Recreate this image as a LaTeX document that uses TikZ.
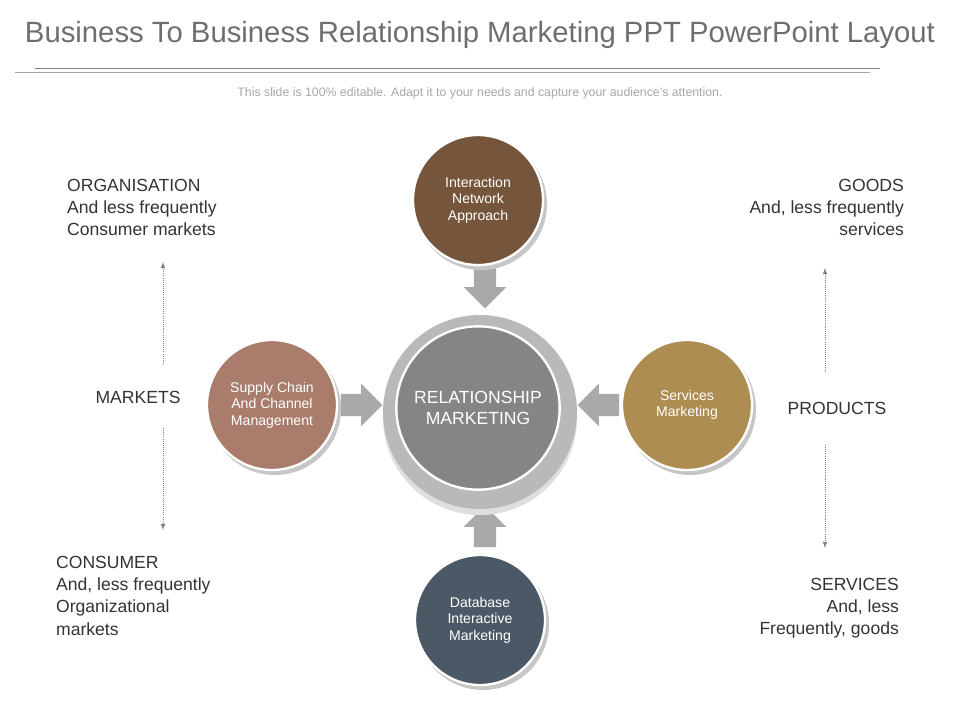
\documentclass[tikz,border=0pt]{standalone}
\usepackage{fontspec}
\setmainfont{Liberation Sans}
\usetikzlibrary{shapes.arrows}
\definecolor{titlegray}{HTML}{6E6E6E}
\definecolor{txtgray}{HTML}{555555}
\definecolor{brownball}{HTML}{75563C}
\definecolor{roseball}{HTML}{A97C6C}
\definecolor{goldball}{HTML}{AD8D52}
\definecolor{slateball}{HTML}{4B5866}
\definecolor{centerball}{HTML}{858585}
\definecolor{arrowgray}{HTML}{A9A9A9}
\tikzset{
  ball/.style={circle, minimum size=3.9cm, draw=white, line width=2pt,
    align=center, text=white, font=\fontsize{12}{14}\selectfont},
  bigarrow/.style={single arrow, fill=arrowgray, minimum height=1.25cm,
    inner xsep=0pt, inner ysep=0.33cm, single arrow head extend=0.3cm},
  sidetext/.style={text=black!80, font=\fontsize{15}{19}\selectfont},
  dotarrow/.style={densely dotted, thick, gray, -latex}
}
\begin{document}
\begin{tikzpicture}[x=0.03cm, y=-0.03cm]
    \useasboundingbox (0,0) rectangle (960,720);

    % titel en lijn
    \node[titlegray, font=\fontsize{25}{28}\selectfont] (title) at (480,35) {Business To Business Relationship Marketing PPT PowerPoint Layout};
    \draw[gray] (35,68) -- (880,68);
    \draw[gray!70] (15,72) -- (870,72);
    \node[gray!70, font=\fontsize{10.5}{12}\selectfont] (sub) at (480,93) {This slide is 100\% editable. Adapt it to your needs and capture your audience's attention.};

    % pijlen naar het midden
    \node[bigarrow, rotate=-90] (arrtop) at (485,282) {};
    \node[bigarrow] (arrleft) at (356,405) {};
    \node[bigarrow, rotate=180] (arrright) at (604,405) {};
    \node[bigarrow, rotate=90] (arrbot) at (485,532) {};

    % middelste cirkel
    \fill[gray!25] (480,418) circle (97);
    \fill[gray!55] (480,412) circle (97);
    \node[ball, fill=centerball, minimum size=4.9cm, font=\fontsize{15}{18}\selectfont] (center) at (478,408) {RELATIONSHIP\\MARKETING};

    % vier cirkels
    \fill[gray!45] (481,204) circle (66);
    \node[ball, fill=brownball] (top) at (478,200) {Interaction\\Network\\Approach};
    \fill[gray!45] (275,409) circle (66);
    \node[ball, fill=roseball] (left) at (272,405) {Supply Chain\\And Channel\\Management};
    \fill[gray!45] (690,409) circle (66);
    \node[ball, fill=goldball] (right) at (687,405) {Services\\Marketing};
    \fill[gray!45] (483,624) circle (66);
    \node[ball, fill=slateball] (bottom) at (480,620) {Database\\Interactive\\Marketing};

    % links
    \node[sidetext, align=left, anchor=north west] (org) at (63,175) {ORGANISATION\\And less frequently\\Consumer markets};
    \node[sidetext] (markets) at (138,397) {MARKETS};
    \node[sidetext, align=left, anchor=north west] (cons) at (52,552) {CONSUMER\\And, less frequently\\Organizational\\markets};
    \coordinate (lu) at (163,262);
    \coordinate (ld) at (163,530);
    \draw[dotarrow] (163,365) -- (lu);
    \draw[dotarrow] (163,428) -- (ld);

    % rechts
    \node[sidetext, align=right, anchor=north east] (goods) at (908,175) {GOODS\\And, less frequently\\services};
    \node[sidetext] (products) at (837,408) {PRODUCTS};
    \node[sidetext, align=right, anchor=north east] (serv) at (903,574) {SERVICES\\And, less\\Frequently, goods};
    \coordinate (ru) at (825,268);
    \coordinate (rd) at (825,548);
    \draw[dotarrow] (825,372) -- (ru);
    \draw[dotarrow] (825,445) -- (rd);

\end{tikzpicture}
\end{document}
